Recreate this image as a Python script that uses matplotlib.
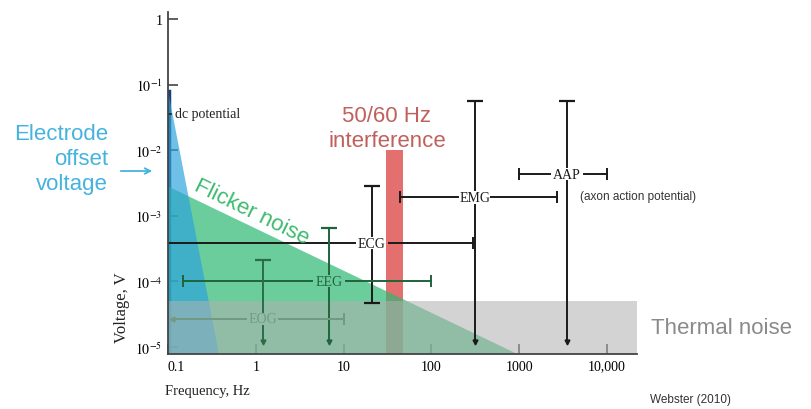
import matplotlib.pyplot as plt
from matplotlib.ticker import NullLocator

plt.rcParams['font.family'] = ['Liberation Serif', 'DejaVu Serif']
plt.rcParams['mathtext.fontset'] = 'stix'

# axis ticks
x_ticks = [0.1, 1, 10, 100, 1000, 10000]
x_tick_labels = ['0.1', '1', '10', '100', '1000', '10,000']
y_ticks = [1e-5, 1e-4, 1e-3, 1e-2, 1e-1, 1]
y_tick_labels = ['$10^{-5}$', '$10^{-4}$', '$10^{-3}$', '$10^{-2}$', '$10^{-1}$', '1']
x_min, x_max = 0.1, 21900
y_min, y_max = 7.8e-6, 1.28

# biosignal ranges: frequency span at one voltage level, voltage span at one frequency
sig_names = ['ECG', 'EEG', 'EOG', 'EMG', 'AAP']
sig_f_lo = [0.1, 0.15, 0.11, 44, 1000]
sig_f_hi = [300, 100, 10, 2700, 10000]
sig_f_mid = [21, 6.8, 1.2, 310, 3500]
sig_level = [3.8e-4, 1e-4, 2.7e-5, 1.9e-3, 4.3e-3]
sig_v_lo = [4.7e-5, 1.2e-5, 1.2e-5, 1.2e-5, 1.2e-5]
sig_v_hi = [2.8e-3, 6.4e-4, 2.1e-4, 5.6e-2, 5.6e-2]
sig_left_end = ['none', 'cap', 'arrow', 'cap', 'cap']
sig_bottom_end = ['cap', 'arrow', 'arrow', 'arrow', 'arrow']
sig_colors = ['#1a1a1a', '#1e643c', '#729a82', '#1a1a1a', '#1a1a1a']
sig_vcolors = ['#1a1a1a', '#1e643c', '#2a6e48', '#1a1a1a', '#1a1a1a']

# noise regions
electrode_top = 0.081
electrode_f_end = 0.38
dc_level = 0.036
flicker_top = 2.8e-3
flicker_f_end = 950
thermal_top = 5e-5
mains_f = [30, 47]
mains_top = 1e-2

fig = plt.figure(figsize=(8.11, 4.10), dpi=100)
ax = fig.add_axes([168 / 811, 1 - 355 / 410, (637 - 168) / 811, (355 - 13) / 410])
ax.set_xscale('log')
ax.set_yscale('log')
ax.set_xlim(x_min, x_max)
ax.set_ylim(y_min, y_max)

# signal crosses
hgap, vgap = 1.55, 1.28
for i, name in enumerate(sig_names):
    z = 6
    c, vc = sig_colors[i], sig_vcolors[i]
    fm, lv = sig_f_mid[i], sig_level[i]
    ax.plot([fm, fm], [lv * vgap, sig_v_hi[i]], color=vc, lw=1.4, zorder=z)
    ax.plot([fm, fm], [sig_v_lo[i], lv / vgap], color=vc, lw=1.4, zorder=z)
    ax.plot(fm, sig_v_hi[i], marker='_', ms=11, mew=1.6, color=vc, zorder=z)
    if sig_bottom_end[i] == 'cap':
        ax.plot(fm, sig_v_lo[i], marker='_', ms=11, mew=1.6, color=vc, zorder=z)
    else:
        ax.plot(fm, sig_v_lo[i], marker='v', ms=3.5, color=vc, zorder=z)
    ax.plot([sig_f_lo[i], fm / hgap], [lv, lv], color=c, lw=1.4, zorder=z)
    ax.plot([fm * hgap, sig_f_hi[i]], [lv, lv], color=c, lw=1.4, zorder=z)
    ax.plot(sig_f_hi[i], lv, marker='|', ms=9, mew=1.4, color=c, zorder=z)
    if sig_left_end[i] == 'cap':
        ax.plot(sig_f_lo[i], lv, marker='|', ms=9, mew=1.4, color=c, zorder=z)
    elif sig_left_end[i] == 'arrow':
        ax.plot(sig_f_lo[i], lv, marker='<', ms=3.5, color=c, zorder=z)
    ax.text(fm, lv, name, ha='center', va='center', fontsize=10, color=c, zorder=z)

# dc potential line along the axis
ax.plot([0.102, 0.102], [y_min, electrode_top], color='#1b3f7a', lw=2.5, zorder=2)
ax.plot([0.1, 0.109], [dc_level, dc_level], color='#222222', lw=1.2, zorder=6)
ax.text(0.12, dc_level, 'dc potential', ha='left', va='center', fontsize=10,
        color='#222222', zorder=6)

# 50/60 Hz interference
ax.fill_between(mains_f, [y_min, y_min], [mains_top, mains_top],
                color='#e05656', alpha=0.85, lw=0, zorder=2.5)
# flicker noise
ax.fill([x_min, flicker_f_end, x_min], [flicker_top, y_min, y_min],
        color='#2eb872', alpha=0.7, lw=0, zorder=3)
# electrode offset voltage
ax.fill([x_min, electrode_f_end, x_min], [electrode_top, y_min, y_min],
        color='#2aa3dc', alpha=0.68, lw=0, zorder=3.5)
# thermal noise
ax.fill_between([x_min, x_max], [y_min, y_min], [thermal_top, thermal_top],
                color='#b0b0b0', alpha=0.55, lw=0, zorder=4)

for s in ['top', 'right']:
    ax.spines[s].set_visible(False)
for s in ['left', 'bottom']:
    ax.spines[s].set_color('#444444')
    ax.spines[s].set_linewidth(1.3)
    ax.spines[s].set_zorder(7)

ax.set_xticks(x_ticks)
ax.set_xticklabels(x_tick_labels)
ax.set_yticks(y_ticks)
ax.set_yticklabels(y_tick_labels)
ax.xaxis.set_minor_locator(NullLocator())
ax.yaxis.set_minor_locator(NullLocator())
ax.tick_params(direction='in', length=7, width=1.2, color='#444444',
               labelsize=10, pad=4)
ax.get_xticklabels()[0].set_ha('left')

fig.text(165 / 811, 1 - 392 / 410, 'Frequency, Hz', ha='left', va='center',
         fontsize=10.5, color='#222222')
fig.text(122 / 811, 1 - 308 / 410, 'Voltage, V', ha='center', va='center',
         rotation=90, fontsize=12, color='#222222')

sans = ['Liberation Sans', 'DejaVu Sans']
fig.text(108 / 811, 1 - 160 / 410, 'Electrode\noffset\nvoltage', ha='right',
         va='center', fontsize=16, color='#45b3de', family=sans, linespacing=1.25)
ax.annotate('', xy=(155 / 811, 1 - 172 / 410), xycoords='figure fraction',
            xytext=(118 / 811, 1 - 172 / 410), textcoords='figure fraction',
            arrowprops=dict(arrowstyle='->', color='#45b3de', lw=1.3))
fig.text(387 / 811, 1 - 129 / 410, '50/60 Hz\ninterference', ha='center',
         va='center', fontsize=16, color='#c0605c', family=sans, linespacing=1.3)
fig.text(252 / 811, 1 - 212 / 410, 'Flicker noise', ha='center', va='center',
         rotation=-26, rotation_mode='anchor', fontsize=16, color='#3dbb6e',
         family=sans)
fig.text(651 / 811, 1 - 328 / 410, 'Thermal noise', ha='left', va='center',
         fontsize=16, color='#8a8a8a', family=sans)
fig.text(580 / 811, 1 - 197 / 410, '(axon action potential)', ha='left',
         va='center', fontsize=8.5, color='#333333', family=sans)
fig.text(650 / 811, 1 - 400 / 410, 'Webster (2010)', ha='left', va='center',
         fontsize=8.5, color='#333333', family=sans)

fig.savefig('out.png', dpi=100)
